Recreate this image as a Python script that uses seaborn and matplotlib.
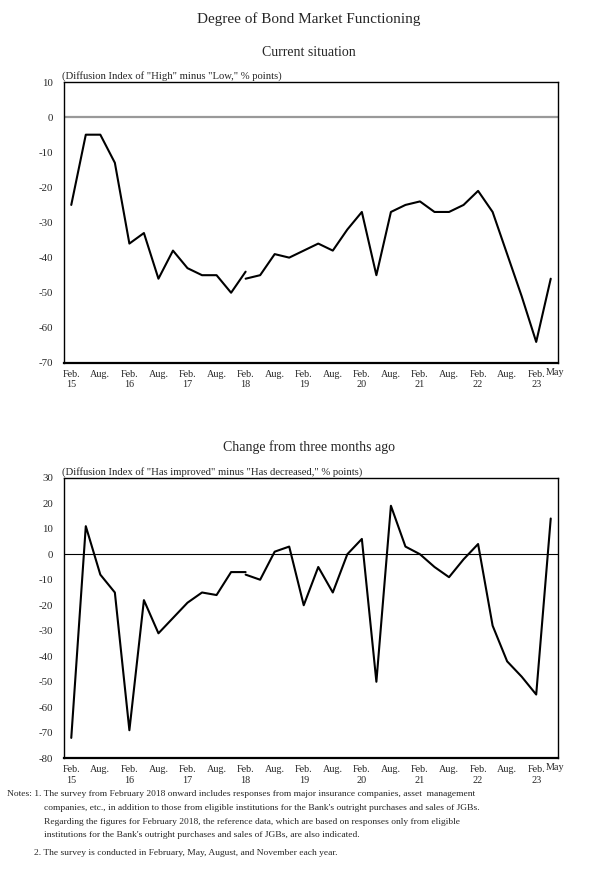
import numpy as np
import matplotlib
matplotlib.use("Agg")
import matplotlib.pyplot as plt
import seaborn as sns

sns.set_theme(style="white")
plt.rcParams["font.family"] = ["Liberation Serif", "DejaVu Serif"]

# quarterly survey, Feb 2015 - May 2023
quarters = ["Feb.\n15", "", "Aug.", "", "Feb.\n16", "", "Aug.", "", "Feb.\n17", "", "Aug.", "",
            "Feb.\n18", "", "Aug.", "", "Feb.\n19", "", "Aug.", "", "Feb.\n20", "", "Aug.", "",
            "Feb.\n21", "", "Aug.", "", "Feb.\n22", "", "Aug.", "", "Feb.\n23", "May"]

# "Current situation" (old basis up to Feb 18, new basis from Feb 18)
current_old = [-25, -5, -5, -13, -36, -33, -46, -38, -43, -45, -45, -50, -44]
current_new = [-46, -45, -39, -40, -38, -36, -38, -32, -27, -45, -27, -25, -24,
               -27, -27, -25, -21, -27, -39, -51, -64, -46]

# "Change from three months ago"
change_old = [-72, 11, -8, -15, -69, -18, -31, -25, -19, -15, -16, -7, -7]
change_new = [-8, -10, 1, 3, -20, -5, -15, 0, 6, -50, 19, 3, 0,
              -5, -9, -2, 4, -28, -42, -48, -55, 14]

notes = [
    (0.012, "Notes: 1. The survey from February 2018 onward includes responses from major insurance companies, asset  management"),
    (0.073, "companies, etc., in addition to those from eligible institutions for the Bank's outright purchases and sales of JGBs."),
    (0.073, "Regarding the figures for February 2018, the reference data, which are based on responses only from eligible"),
    (0.073, "institutions for the Bank's outright purchases and sales of JGBs, are also indicated."),
]
note2 = "2. The survey is conducted in February, May, August, and November each year."

W, H = 601, 876
fig = plt.figure(figsize=(W / 100, H / 100), dpi=100)

x_all = np.arange(len(quarters))
n_old = len(current_old)
x_old = x_all[:n_old]
x_new = x_all[n_old - 1:]


def panel(rect, old, new, ylim, yticks, title, title_y, unit, zero_color, zero_lw):
    ax = fig.add_axes(rect)
    sns.lineplot(x=x_old, y=old, ax=ax, color="black", lw=1.5)
    sns.lineplot(x=x_new, y=new, ax=ax, color="black", lw=1.5)
    ax.axhline(0, color=zero_color, lw=zero_lw, zorder=1)
    ax.set_xlim(-0.5, len(quarters) - 0.5)
    ax.set_ylim(*ylim)
    ax.set_yticks(yticks)
    ax.set_yticklabels([str(v) for v in yticks], fontsize=7.8)
    # last label (May) is drawn separately so it does not run into "Feb."
    ax.set_xticks(x_all)
    ax.set_xticklabels(quarters[:-1] + [""], fontsize=7.3, linespacing=1.2)
    ax.annotate(quarters[-1], xy=(x_all[-1], 0), xycoords=("data", "axes fraction"),
                xytext=(-3.5, -3.5), textcoords="offset points", ha="left", va="top", fontsize=7.3)
    ax.set_xticks(np.arange(0.5, len(quarters) - 1, 1), minor=True)
    ax.tick_params(axis="x", which="major", length=0, pad=5)
    ax.tick_params(axis="x", which="minor", length=3, width=0.8, direction="in", color="#444444")
    ax.tick_params(axis="y", length=0, pad=8)
    for s in ax.spines.values():
        s.set_color("black")
        s.set_linewidth(1.0)
    ax.spines["bottom"].set_linewidth(1.6)
    ax.set_xlabel("")
    ax.set_ylabel("")
    ax.grid(False)
    ax.text(-0.004, 1.004, unit, transform=ax.transAxes, fontsize=7.7, ha="left", va="bottom")
    fig.text(0.514, 1 - title_y / H, title, fontsize=10, ha="center", va="center")
    return ax


left, width = 64 / W, 494 / W
panel([left, 1 - 363 / H, width, 281 / H], current_old, current_new, (-70, 10),
      list(range(10, -71, -10)), "Current situation", 52,
      "(Diffusion Index of \"High\" minus \"Low,\" % points)", "#999999", 1.6)
panel([left, 1 - 758.3 / H, width, 280.6 / H], change_old, change_new, (-80, 30),
      list(range(30, -81, -10)), "Change from three months ago", 447,
      "(Diffusion Index of \"Has improved\" minus \"Has decreased,\" % points)", "black", 0.8)

fig.text(0.514, 1 - 19 / H, "Degree of Bond Market Functioning", fontsize=11, ha="center", va="center")

ys = [794, 808, 821.5, 835]
for (xx, t), yy in zip(notes, ys):
    fig.text(xx, 1 - yy / H, t, fontsize=6.8, ha="left", va="center")
fig.text(0.056, 1 - 853 / H, note2, fontsize=6.8, ha="left", va="center")

fig.savefig("out.png", dpi=100)
